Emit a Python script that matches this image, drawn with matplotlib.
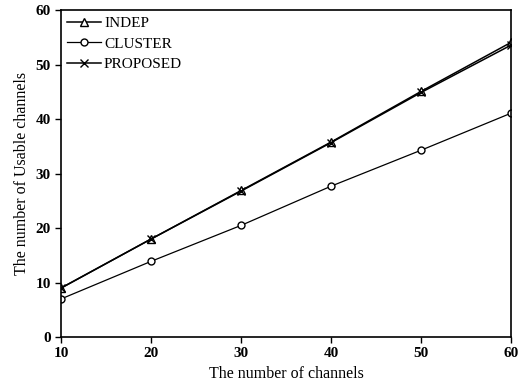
import matplotlib
matplotlib.use('Agg')
import matplotlib.pyplot as plt

channels = [10, 20, 30, 40, 50, 60]
indep = [9, 18, 26.9, 35.8, 45.1, 54.1]
cluster = [7.0, 13.9, 20.5, 27.7, 34.3, 41.1]
proposed = [9, 18, 26.8, 35.7, 44.9, 53.6]

plt.rcParams['font.family'] = ['Liberation Serif', 'DejaVu Serif']

fig = plt.figure(figsize=(5.27, 3.91), dpi=100)
ax = fig.add_axes([0.116, 0.138, 0.854, 0.836])

ax.plot(channels, indep, 'k-', marker='^', mfc='white', ms=6, lw=1.1, label='INDEP')
ax.plot(channels, cluster, 'k-', marker='o', mfc='white', ms=5, lw=0.9, label='CLUSTER')
ax.plot(channels, proposed, 'k-', marker='x', ms=6, lw=1.1, label='PROPOSED')

ax.set_xlim(10, 60)
ax.set_ylim(0, 60)
ax.set_xticks([10, 20, 30, 40, 50, 60])
ax.set_yticks([0, 10, 20, 30, 40, 50, 60])
ax.tick_params(direction='out', length=4, width=1, labelsize=11)
for lab in ax.get_xticklabels() + ax.get_yticklabels():
    lab.set_fontweight('bold')
for s in ax.spines.values():
    s.set_linewidth(1.2)

ax.set_xlabel('The number of channels', fontsize=11.5)
ax.set_ylabel('The number of Usable channels', fontsize=11.5)

ax.legend(loc='upper left', frameon=False, fontsize=11, handlelength=2.2,
          borderaxespad=0.1, borderpad=0.3, handletextpad=0.2, labelspacing=0.45)

fig.savefig('out.png', dpi=100)
